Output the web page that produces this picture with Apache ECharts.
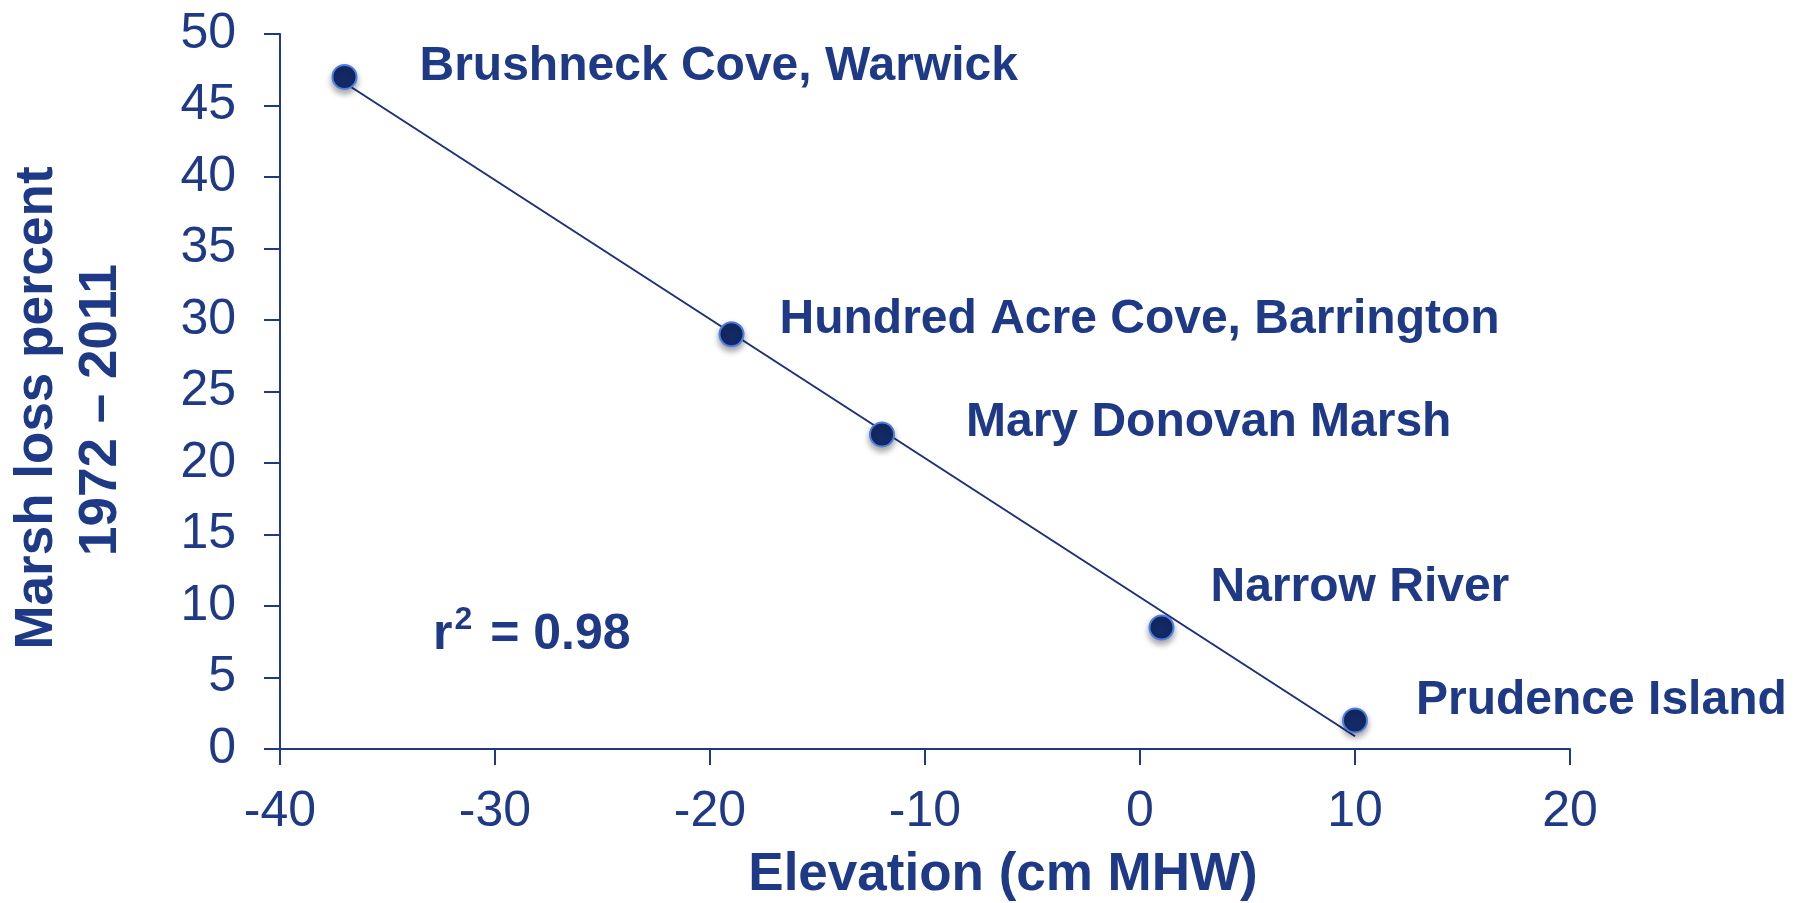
<!DOCTYPE html>
<html>
<head>
<meta charset="utf-8">
<title>Marsh loss vs elevation</title>
<script src="https://cdn.jsdelivr.net/npm/echarts@6/dist/echarts.min.js"></script>
<style>
  html, body { margin: 0; padding: 0; background: #ffffff; }
  #chart { width: 1798px; height: 903px; }
</style>
</head>
<body>
<div id="chart"></div>
<script>
// Marsh sites, elevation relative to mean high water (cm) and marsh loss 1972–2011 (%)
const sites = ['Brushneck Cove, Warwick', 'Hundred Acre Cove, Barrington', 'Mary Donovan Marsh', 'Narrow River', 'Prudence Island'];
const elevation = [-37, -19, -12, 1, 10];
const marshLoss = [47, 29, 22, 8.5, 2];
const xTicks = [-40, 20, 10];   // min, max, step
const yTicks = [0, 50, 5];
const fitValue = '0.98';

// label nudges (px) so the names sit up and to the right of each marker
const labelNudge = [[62, -10], [35, -15], [71, -12], [36, -40], [48, -20]];

const navy = '#1e3a86';
const FONT = '"Liberation Sans", Arial, Helvetica, sans-serif';

// least-squares trend line through the sites
function fitLine(xs, ys) {
  const n = xs.length;
  const mx = xs.reduce((a, b) => a + b, 0) / n;
  const my = ys.reduce((a, b) => a + b, 0) / n;
  let sxy = 0, sxx = 0;
  for (let i = 0; i < n; i++) { sxy += (xs[i] - mx) * (ys[i] - my); sxx += (xs[i] - mx) ** 2; }
  const slope = sxy / sxx;
  const icpt = my - slope * mx;
  const x0 = Math.min(...xs), x1 = Math.max(...xs);
  return [[x0, icpt + slope * x0], [x1, icpt + slope * x1]];
}

const chart = echarts.init(document.getElementById('chart'), null, { renderer: 'canvas' });

const points = elevation.map((x, i) => ({
  value: [x, marshLoss[i]],
  name: sites[i],
  label: { offset: labelNudge[i] }
}));

const axisCommon = {
  type: 'value',
  splitLine: { show: false },
  axisLine: { show: true, onZero: false, lineStyle: { color: navy, width: 2 } },
  axisTick: { show: true, inside: false, length: 16, lineStyle: { color: navy, width: 2 } },
  axisLabel: { color: navy, fontSize: 50, fontFamily: FONT }
};

chart.setOption({
  backgroundColor: '#ffffff',
  animation: false,
  grid: { left: 280, right: 228, top: 34, bottom: 154, containLabel: false },
  xAxis: Object.assign({}, axisCommon, {
    min: xTicks[0], max: xTicks[1], interval: xTicks[2],
    axisLabel: Object.assign({}, axisCommon.axisLabel, { margin: 38 })
  }),
  yAxis: Object.assign({}, axisCommon, {
    min: yTicks[0], max: yTicks[1], interval: yTicks[2],
    axisLabel: Object.assign({}, axisCommon.axisLabel, { margin: 44 })
  }),
  series: [
    {
      type: 'line',
      data: fitLine(elevation, marshLoss),
      showSymbol: false,
      symbol: 'none',
      lineStyle: { color: '#1b2f7c', width: 2 },
      z: 1,
      silent: true
    },
    {
      type: 'scatter',
      data: points,
      symbolSize: 24,
      z: 3,
      itemStyle: {
        opacity: 1,
        color: '#132a66',
        borderColor: '#4d7fe3',
        borderWidth: 2,
        shadowBlur: 6,
        shadowOffsetY: 4,
        shadowColor: 'rgba(0,0,0,0.35)'
      },
      label: {
        show: true,
        position: 'right',
        distance: 0,
        formatter: p => p.name,
        color: navy,
        opacity: 1,
        fontSize: 48,
        fontWeight: 'bold',
        fontFamily: FONT
      }
    }
  ],
  graphic: [
    {
      type: 'text',
      left: 433,
      top: 604,
      style: {
        text: '{b|r}{s|2}{b| = ' + fitValue + '}',
        rich: {
          b: { fill: navy, fontSize: 50, fontWeight: 'bold', fontFamily: FONT, lineHeight: 56, verticalAlign: 'bottom' },
          s: { fill: navy, fontSize: 32, fontWeight: 'bold', fontFamily: FONT, lineHeight: 56, verticalAlign: 'top', padding: [0, 4, 0, 2] }
        }
      }
    },
    {
      type: 'text',
      x: 1003, y: 875,
      style: { text: 'Elevation (cm MHW)', fill: navy, font: 'bold 53px ' + FONT, align: 'center', verticalAlign: 'middle' }
    },
    {
      type: 'text',
      x: 37, y: 408,
      rotation: Math.PI / 2,
      style: { text: 'Marsh loss percent', fill: navy, font: 'bold 53px ' + FONT, align: 'center', verticalAlign: 'middle' }
    },
    {
      type: 'text',
      x: 101, y: 410,
      rotation: Math.PI / 2,
      style: { text: '1972 – 2011', fill: navy, font: 'bold 53px ' + FONT, align: 'center', verticalAlign: 'middle' }
    }
  ]
});
</script>
</body>
</html>
